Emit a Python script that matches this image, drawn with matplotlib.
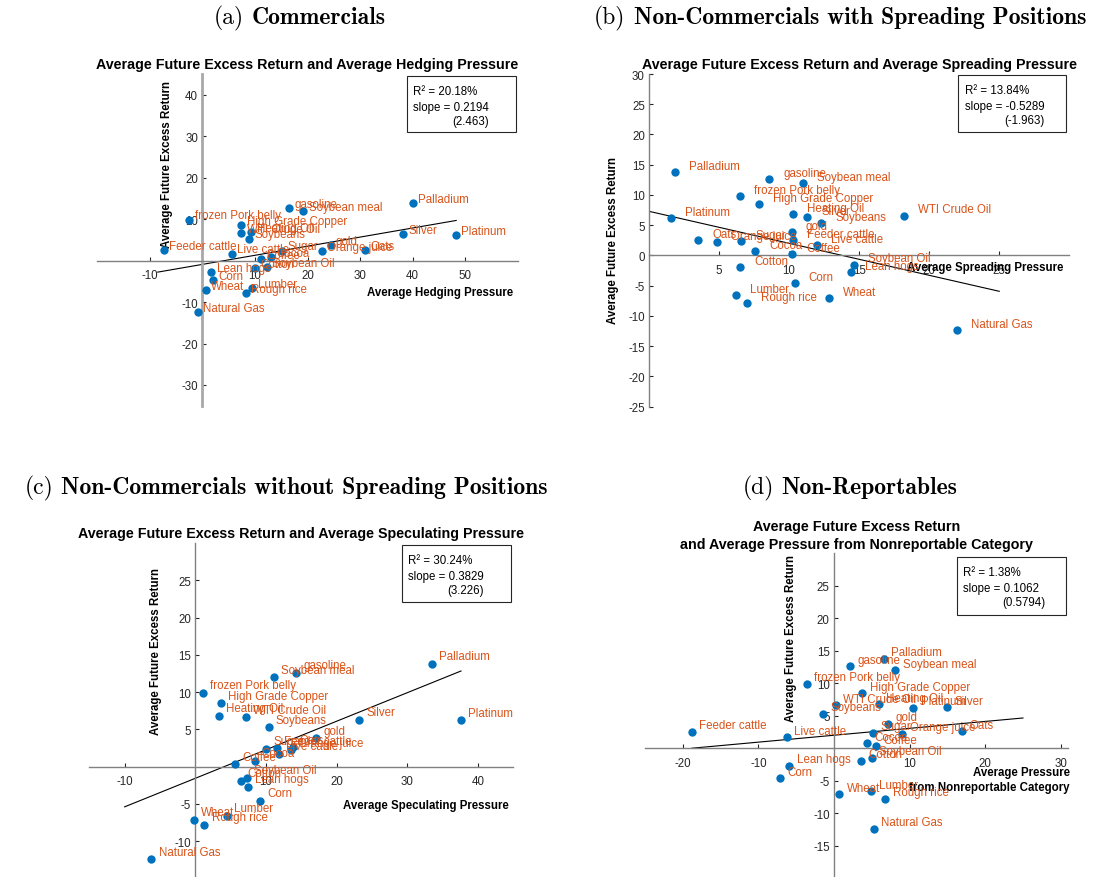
import numpy as np
import matplotlib.pyplot as plt
from matplotlib.patches import Rectangle

plt.rcParams['font.family'] = ['Liberation Sans', 'DejaVu Sans']
plt.rcParams['axes.unicode_minus'] = False

# ----------------------------
# Commodity averages
# ----------------------------
COMMODITIES = [
    "Palladium", "gasoline", "Soybean meal", "frozen Pork belly",
    "High Grade Copper", "Heating Oil", "Silver", "Soybeans",
    "WTI Crude Oil", "Platinum", "Oats", "Orange juice", "Sugar",
    "Cocoa", "gold", "Feeder cattle", "Live cattle", "Coffee",
    "Cotton", "Soybean Oil", "Lean hogs", "Corn", "Lumber",
    "Rough rice", "Wheat", "Natural Gas",
]

EXCESS_RETURN = [
    13.8, 12.6, 12.0, 9.9, 8.5, 6.8, 6.3, 5.3, 6.6, 6.2, 2.6, 2.2, 2.4,
    0.8, 3.8, 2.5, 1.7, 0.3, -1.9, -1.5, -2.7, -4.6, -6.6, -7.8, -7.1, -12.4,
]

HEDGING_PRESSURE = [
    40.1, 16.5, 19.2, -2.5, 7.4, 9.3, 38.2, 8.9, 7.4, 48.3, 30.9, 22.8, 15.2,
    13.0, 24.4, -7.3, 5.6, 11.2, 10.1, 12.3, 1.7, 2.1, 9.5, 8.3, 0.6, -0.8,
]

SPREADING_PRESSURE = [
    1.85, 8.6, 11.0, 6.5, 7.85, 10.3, 11.3, 12.3, 18.2, 1.54, 3.5, 4.86, 6.6,
    7.6, 10.2, 10.3, 12.0, 10.2, 6.5, 14.6, 14.4, 10.4, 6.2, 6.97, 12.85, 22.0,
]

SPECULATING_PRESSURE = [
    33.5, 14.3, 11.1, 1.1, 3.6, 3.35, 23.2, 10.4, 7.2, 37.6, 13.8, 13.6, 10.0,
    8.4, 17.1, 11.5, 11.9, 5.6, 6.4, 7.25, 7.4, 9.2, 4.5, 1.3, -0.15, -6.2,
]

NONREPORTABLE_PRESSURE = [
    6.6, 2.1, 8.1, -3.6, 3.7, 5.9, 14.9, -1.5, 0.25, 10.5, 16.9, 9.0, 5.1,
    4.4, 7.2, -18.8, -6.25, 5.55, 3.6, 5.0, -5.9, -7.1, 4.95, 6.8, 0.7, 5.26,
]

# regression results per panel
R2 = [20.18, 13.84, 30.24, 1.38]
SLOPES = [0.2194, -0.5289, 0.3829, 0.1062]
T_STATS = [2.463, -1.963, 3.226, 0.5794]
INTERCEPTS = [-0.92, 7.3, -1.57, 2.0]
FIT_X = [(-8.5, 48.3), (0.0, 25.0), (-10.0, 37.6), (-18.8, 25.0)]

CAPTIONS = [
    ("(a)", "Commercials"),
    ("(b)", "Non-Commercials with Spreading Positions"),
    ("(c)", "Non-Commercials without Spreading Positions"),
    ("(d)", "Non-Reportables"),
]
TITLES = [
    "Average Future Excess Return and Average Hedging Pressure",
    "Average Future Excess Return and Average Spreading Pressure",
    "Average Future Excess Return and Average Speculating Pressure",
    "Average Future Excess Return\nand Average Pressure from Nonreportable Category",
]
XLABELS = [
    "Average Hedging Pressure",
    "Average Spreading Pressure",
    "Average Speculating Pressure",
    "Average Pressure\nfrom Nonreportable Category",
]
X_SERIES = [HEDGING_PRESSURE, SPREADING_PRESSURE, SPECULATING_PRESSURE, NONREPORTABLE_PRESSURE]

# ----------------------------
# Layout (pixels on a 1110x878 canvas)
# ----------------------------
W, H = 1110, 878
LAYOUT = [
    dict(rect=(97.3, 75, 517.7, 406.7), xlim=(-20, 60), ylim=(-35, 45),
         xticks=[-10, 10, 20, 30, 40, 50], yticks=[-30, -20, -10, 10, 20, 30, 40],
         ylab=(167, 164), xlab=(513, 292.7), box=(406.7, 76.7, 515.7, 133.3),
         caption=(300, 18)),
    dict(rect=(649, 75, 1069.3, 407.7), xlim=(0, 30), ylim=(-25, 30),
         xticks=[5, 10, 15, 20, 25], yticks=list(range(-25, 31, 5)),
         ylab=(613, 240), xlab=(1063, 267.7), box=(958.3, 76, 1066, 133.3),
         caption=(840, 18)),
    dict(rect=(89.3, 544, 513.3, 879.4), xlim=(-15, 45), ylim=(-15, 30),
         xticks=[-10, 10, 20, 30, 40], yticks=[-10, -5, 5, 10, 15, 20, 25],
         ylab=(156, 652), xlab=(508.3, 806), box=(401.7, 546, 511, 602.7),
         caption=(286, 488)),
    dict(rect=(645, 554.3, 1068.3, 879.2), xlim=(-25, 31), ylim=(-20, 30),
         xticks=[-20, -10, 10, 20, 30], yticks=[-15, -10, -5, 5, 10, 15, 20, 25],
         ylab=(790.7, 639), xlab=(1070, 780.7), box=(956.7, 557.7, 1066, 615.7),
         caption=(850, 488)),
]

DOT = "#0072BD"
LABEL = "#D95319"
AXIS = "#262626"
FS = 8.3

fig = plt.figure(figsize=(W / 100, H / 100), dpi=100)


def caption(cx, cy, tag, name):
    t1 = fig.text(0, 1 - cy / H, tag, family="cmr10", fontsize=17, va="center")
    t2 = fig.text(0, 1 - cy / H, name, family="cmb10", fontsize=17, va="center")
    r = fig.canvas.get_renderer()
    w1 = t1.get_window_extent(r).width
    w2 = t2.get_window_extent(r).width
    gap = 8
    x0 = cx - (w1 + gap + w2) / 2
    t1.set_x(x0 / W)
    t2.set_x((x0 + w1 + gap) / W)


for i, p in enumerate(LAYOUT):
    l, t, r, b = p["rect"]
    ax = fig.add_axes([l / W, 1 - b / H, (r - l) / W, (b - t) / H])
    ax.patch.set_alpha(0)

    xs = np.array(X_SERIES[i])
    ys = np.array(EXCESS_RETURN)

    ax.scatter(xs, ys, s=36, color=DOT, zorder=3, linewidths=0)
    for name, x, y in zip(COMMODITIES, xs, ys):
        ax.text(x + 1, y + 1, name, color=LABEL, fontsize=FS, ha="left", va="center", zorder=4)

    fx = np.array(FIT_X[i])
    ax.plot(fx, INTERCEPTS[i] + SLOPES[i] * fx, color="black", lw=0.8, zorder=2)

    ax.set_xlim(p["xlim"])
    ax.set_ylim(p["ylim"])
    ax.set_xticks(p["xticks"])
    ax.set_yticks(p["yticks"])

    for side in ("top", "right"):
        ax.spines[side].set_visible(False)
    ax.spines["left"].set_position(("data", 0))
    ax.spines["bottom"].set_position(("data", 0))
    for side in ("left", "bottom"):
        ax.spines[side].set_color("#808080")
        ax.spines[side].set_linewidth(1.0)
    if i == 0:
        ax.spines["left"].set_color("#a8a8a8")
        ax.spines["left"].set_linewidth(2.0)

    ax.tick_params(direction="in", length=3, width=0.8, color=AXIS,
                   labelsize=FS, labelcolor=AXIS)
    ax.tick_params(axis="x", pad=6)
    ax.tick_params(axis="y", pad=3)

    ax.set_title(TITLES[i], fontsize=10.3, fontweight="bold", pad=4, linespacing=1.35)

    # axis labels sit beside the origin lines
    ax.set_ylabel("Average Future Excess Return", fontsize=FS, fontweight="bold")
    ax.yaxis.label.set_va("center")
    ax.yaxis.set_label_coords((p["ylab"][0] - l) / (r - l), (b - p["ylab"][1]) / (b - t))

    ax.set_xlabel(XLABELS[i], fontsize=FS, fontweight="bold", linespacing=1.3)
    ax.xaxis.label.set_ha("right")
    ax.xaxis.label.set_va("center")
    ax.xaxis.label.set_multialignment("right")
    ax.xaxis.set_label_coords((p["xlab"][0] - l) / (r - l), (b - p["xlab"][1]) / (b - t))

    # statistics box
    bx0, by0, bx1, by1 = p["box"]
    fig.add_artist(Rectangle((bx0 / W, 1 - by1 / H), (bx1 - bx0) / W, (by1 - by0) / H,
                             transform=fig.transFigure, fill=False, ec=AXIS, lw=0.8))
    fig.text((bx0 + 6.3) / W, 1 - (by0 + 15.3) / H, f"R\u00b2 = {R2[i]:.2f}%",
             fontsize=FS, va="center")
    fig.text((bx0 + 6.3) / W, 1 - (by0 + 31) / H, f"slope = {SLOPES[i]:.4f}",
             fontsize=FS, va="center")
    fig.text((bx0 + 45.5) / W, 1 - (by0 + 45) / H, f"({T_STATS[i]:.4g})",
             fontsize=FS, va="center")

    caption(*p["caption"], *CAPTIONS[i])

fig.savefig("out.png", dpi=100)
